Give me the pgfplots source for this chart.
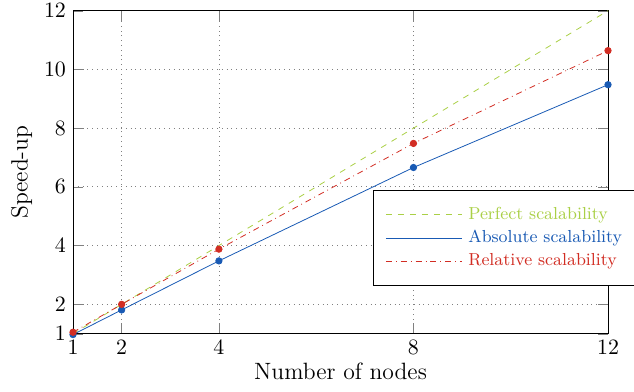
\documentclass[border=0pt]{standalone}
\usepackage{pgfplots}
\pgfplotsset{compat=1.18}
\definecolor{cgreen}{RGB}{170,208,70}
\definecolor{cblue}{RGB}{25,90,180}
\definecolor{cred}{RGB}{210,45,35}
\begin{document}
\begin{tikzpicture}
\begin{axis}[
  scale only axis,
  width=267.5pt, height=161.5pt,
  xmin=1, xmax=12, ymin=1, ymax=12,
  xtick={1,2,4,8,12},
  ytick={1,2,4,6,8,10,12},
  grid=major,
  major grid style={dotted, gray},
  xlabel={Number of nodes},
  ylabel={Speed-up},
  tick label style={font=\fontsize{11}{13}\selectfont},
  label style={font=\fontsize{11.8}{14}\selectfont},
  xlabel style={yshift=3pt},
  ylabel style={yshift=-1pt},
  major tick length=5pt,
  clip=false,
  legend style={at={(rel axis cs:0.561,0.446)}, anchor=north west,
    draw=black, inner xsep=6pt, inner ysep=6.5pt, row sep=0pt,
    font=\fontsize{8.7}{10.5}\selectfont},
  legend cell align=left,
  legend image code/.code={\draw[#1] (0pt,0pt) -- (38pt,0pt);},
]
\addplot[cgreen, dashed, no marks] coordinates {(1,1) (2,2) (4,4) (8,8) (12,12)};
\addlegendentry{\makebox[85pt][l]{\hspace{1pt}\textcolor{cgreen}{Perfect scalability}}}
\addplot[cblue, solid, mark=*, mark size=1.6pt] coordinates {(1,0.97) (2,1.81) (4,3.48) (8,6.66) (12,9.48)};
\addlegendentry{\makebox[85pt][l]{\hspace{1pt}\textcolor{cblue}{Absolute scalability}}}
\addplot[cred, dashdotted, mark=*, mark size=1.6pt, mark options={solid}] coordinates {(1,1.05) (2,2.0) (4,3.88) (8,7.48) (12,10.64)};
\addlegendentry{\makebox[85pt][l]{\hspace{1pt}\textcolor{cred}{Relative scalability}}}
\end{axis}
\pgfresetboundingbox
\path[use as bounding box] ([xshift=-36.5pt,yshift=-29pt]current axis.south west) rectangle ([xshift=13pt,yshift=5.35pt]current axis.north east);
\end{tikzpicture}
\end{document}
